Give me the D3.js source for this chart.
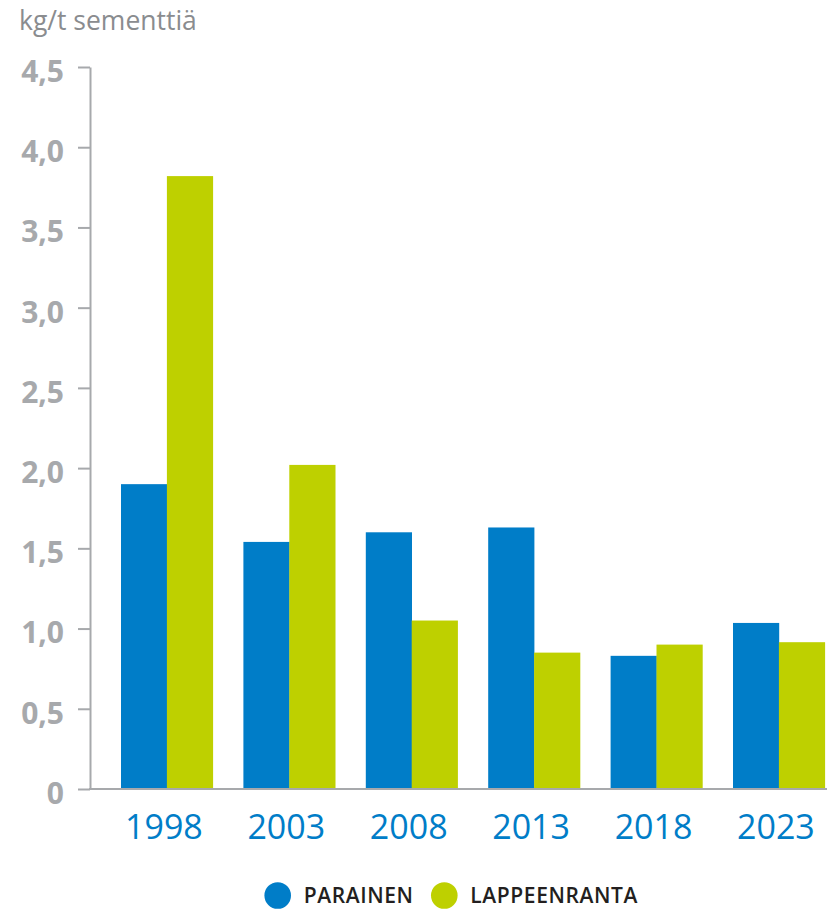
<!DOCTYPE html>
<html>
<head>
<meta charset="utf-8">
<script src="https://cdn.jsdelivr.net/npm/d3@7"></script>
<style>
  html, body { margin: 0; padding: 0; background: #ffffff; }
  svg { display: block; font-family: "Open Sans", sans-serif; }
</style>
</head>
<body>
<svg id="chart" width="827" height="909"></svg>
<script>
const years = ["1998", "2003", "2008", "2013", "2018", "2023"];
const parainen = [1.9, 1.54, 1.6, 1.63, 0.83, 1.035];
const lappeenranta = [3.82, 2.02, 1.05, 0.85, 0.9, 0.915];
const seriesNames = ["PARAINEN", "LAPPEENRANTA"];
const seriesColors = ["#007dc8", "#bed000"];
const yTicks = [0, 0.5, 1, 1.5, 2, 2.5, 3, 3.5, 4, 4.5];
const unitLabel = "kg/t sementtiä";

const svg = d3.select("#chart");
const axisColor = "#a7a9ac";

const y = d3.scaleLinear().domain([0, 4.5]).range([789, 67]);
const x0 = d3.scaleBand().domain(years).range([90.4, 855.4]).paddingInner(0.25).paddingOuter(0.25);
const x1 = d3.scaleBand().domain(seriesNames).range([0, x0.bandwidth()]);

const data = years.map((yr, i) => ({ year: yr, values: [parainen[i], lappeenranta[i]] }));

// bars
const groups = svg.append("g").selectAll("g").data(data).join("g")
  .attr("transform", d => `translate(${x0(d.year)},0)`);
groups.selectAll("rect")
  .data(d => d.values.map((v, j) => ({ v, j })))
  .join("rect")
  .attr("x", d => x1(seriesNames[d.j]))
  .attr("width", x1.bandwidth() + 0.3)
  .attr("y", d => y(d.v))
  .attr("height", d => y(0) - y(d.v))
  .attr("fill", d => seriesColors[d.j]);

// y axis
const yAxis = d3.axisLeft(y).tickValues(yTicks).tickSize(12).tickSizeOuter(0)
  .tickPadding(14)
  .tickFormat(d => d === 0 ? "0" : d3.format(".1f")(d).replace(".", ","));
const gy = svg.append("g").attr("transform", "translate(90,0)").call(yAxis);
gy.select(".domain").attr("stroke", axisColor).attr("stroke-width", 2);
gy.selectAll(".tick line").attr("stroke", axisColor).attr("stroke-width", 2);
gy.selectAll(".tick text")
  .attr("fill", axisColor)
  .attr("font-family", "Open Sans")
  .attr("font-weight", 700)
  .attr("font-size", 30)
  .attr("dy", "0.48em");

// x baseline
svg.append("line").attr("x1", 89).attr("x2", 827).attr("y1", y(0)).attr("y2", y(0))
  .attr("stroke", axisColor).attr("stroke-width", 2);

// x labels
const xAxis = d3.axisBottom(x0).tickSize(0).tickPadding(0);
const gx = svg.append("g").attr("transform", `translate(-3,${y(0)})`).call(xAxis);
gx.select(".domain").remove();
gx.selectAll(".tick text")
  .attr("fill", "#007dc8")
  .attr("font-family", "Open Sans")
  .attr("font-size", 34)
  .attr("y", 50)
  .attr("dy", 0);

// unit label
svg.append("text").attr("x", 19).attr("y", 29.5)
  .attr("fill", "#8a8c8f").attr("font-size", 26.5)
  .text(unitLabel);

// legend
const legendX = [277.7, 444.3];
const leg = svg.append("g").selectAll("g").data(seriesNames).join("g")
  .attr("transform", (d, i) => `translate(${legendX[i]},895.5)`);
leg.append("circle").attr("r", 13.3).attr("fill", (d, i) => seriesColors[i]);
leg.append("text").attr("x", 26).attr("y", 7.5)
  .attr("fill", "#231f20").attr("font-size", 21).attr("font-weight", 600)
  .attr("letter-spacing", 0.6)
  .text(d => d);
</script>
</body>
</html>
